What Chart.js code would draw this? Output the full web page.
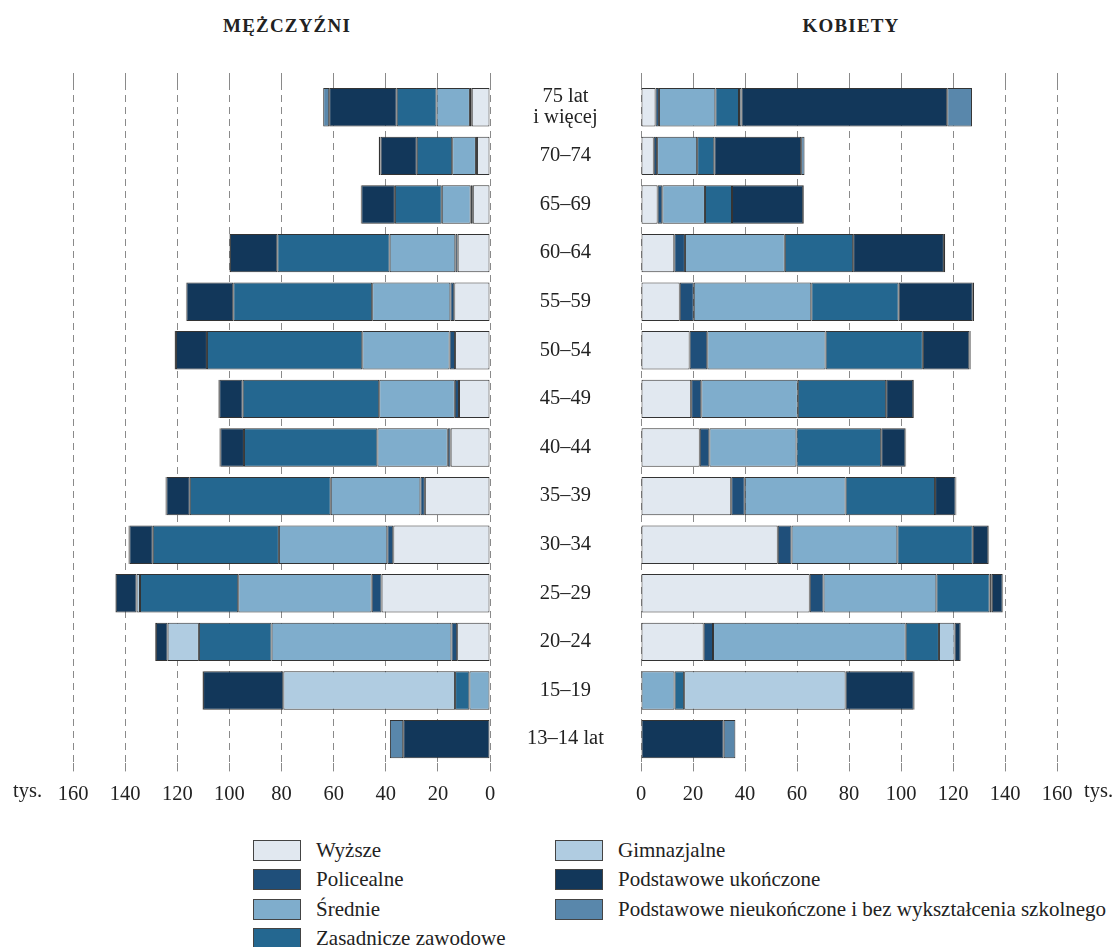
<!DOCTYPE html>
<html lang="pl">
<head>
<meta charset="UTF-8">
<title>Ludność według wieku i poziomu wykształcenia</title>
<script src="https://cdn.jsdelivr.net/npm/chart.js"></script>
<style>
  body {
    margin: 0;
    background: #fff;
    font-family: "Liberation Serif", "Times New Roman", serif;
    color: #222;
  }
  .page {
    position: relative;
    width: 1116px;
    height: 947px;
    overflow: hidden;
  }
  .title {
    position: absolute;
    top: 15px;
    width: 220px;
    text-align: center;
    font-weight: bold;
    font-size: 19px;
    letter-spacing: 1.2px;
  }
  #chartM { position: absolute; left: 0; top: 0; }
  #chartK { position: absolute; left: 620px; top: 0; }
  .unit {
    position: absolute;
    top: 779px;
    font-size: 20.5px;
  }
  .leg-item {
    position: absolute;
    height: 22px;
    display: flex;
    align-items: center;
    font-size: 21px;
    white-space: nowrap;
  }
  .leg-box {
    width: 46px;
    height: 19px;
    border: 1px solid #444;
    margin-right: 15px;
  }
</style>
</head>
<body>
<div class="page">
  <div class="title" style="left:177px">MĘŻCZYŹNI</div>
  <div class="title" style="left:741px">KOBIETY</div>

  <canvas id="chartM" width="641" height="828"></canvas>
  <canvas id="chartK" width="496" height="828"></canvas>

  <div class="unit" style="left:13px">tys.</div>
  <div class="unit" style="left:1084px">tys.</div>

  <div id="legend"></div>
</div>

<script>
// age groups, top to bottom
const ageGroups = [["75 lat", "i więcej"], "70–74", "65–69", "60–64", "55–59", "50–54",
  "45–49", "40–44", "35–39", "30–34", "25–29", "20–24", "15–19", "13–14 lat"];

// education levels (stack order from 0 outward)
const levels = ["Wyższe", "Policealne", "Średnie", "Zasadnicze zawodowe", "Gimnazjalne",
  "Podstawowe ukończone", "Podstawowe nieukończone i bez wykształcenia szkolnego"];
const levelColors = ["#e1e8f0", "#1f4f7a", "#7fadcc", "#246790", "#b0cce1", "#12375a", "#5987ab"];

// men, thousands
const menWyzsze       = [7.0, 5.0, 6.6, 12.4, 13.7, 13.4, 11.9, 15.1, 25.0, 37.1, 41.6, 12.6, 0, 0];
const menPolicealne   = [0.7, 0.4, 0.8, 0.9, 1.5, 2.1, 1.6, 1.1, 1.7, 2.3, 3.8, 2.2, 0, 0];
const menSrednie      = [12.8, 9.1, 11.1, 25.2, 30.0, 33.5, 29.0, 27.0, 34.4, 41.6, 51.2, 69.0, 7.9, 0];
const menZasadnicze   = [15.3, 13.6, 18.0, 43.1, 53.3, 59.6, 52.4, 51.2, 54.1, 48.4, 37.7, 27.9, 5.5, 0];
const menGimnazjalne  = [0, 0, 0, 0, 0, 0, 0, 0, 0, 0, 1.3, 12.0, 65.9, 0];
const menPodstawowe   = [25.9, 13.9, 12.9, 18.2, 18.0, 11.9, 9.0, 9.1, 9.0, 9.0, 8.0, 4.5, 30.8, 33.3];
const menNieukonczone = [2.3, 0.7, 0.2, 0.2, 0.2, 0.5, 0.3, 0.3, 0.3, 0.3, 0.2, 0.3, 0.2, 5.1];

// women, thousands
const womenWyzsze       = [5.6, 4.9, 6.4, 12.8, 14.9, 18.7, 19.3, 22.6, 34.7, 52.6, 64.9, 24.1, 0, 0];
const womenPolicealne   = [1.3, 1.3, 1.8, 4.1, 5.4, 6.8, 3.9, 3.7, 5.2, 5.3, 5.3, 3.6, 0, 0];
const womenSrednie      = [21.7, 15.4, 16.4, 38.4, 45.2, 45.5, 37.1, 33.5, 38.8, 40.7, 43.4, 74.1, 12.9, 0];
const womenZasadnicze   = [9.1, 6.6, 10.4, 26.3, 33.6, 37.4, 34.0, 32.6, 34.4, 29.0, 20.5, 12.8, 3.7, 0];
const womenGimnazjalne  = [0.9, 0, 0, 0, 0, 0, 0, 0, 0, 0, 0.8, 6.0, 62.1, 0];
const womenPodstawowe   = [79.2, 33.4, 27.4, 34.9, 28.5, 17.9, 10.4, 9.3, 7.9, 6.0, 4.2, 2.3, 26.2, 31.8];
const womenNieukonczone = [9.5, 1.3, 0.3, 0.5, 0.5, 0.5, 0.3, 0.3, 0.3, 0.3, 0.2, 0.2, 0.3, 4.5];

const axisTicks = [0, 20, 40, 60, 80, 100, 120, 140, 160];

const menSeries = [menWyzsze, menPolicealne, menSrednie, menZasadnicze, menGimnazjalne, menPodstawowe, menNieukonczone];
const womenSeries = [womenWyzsze, womenPolicealne, womenSrednie, womenZasadnicze, womenGimnazjalne, womenPodstawowe, womenNieukonczone];

const serif = "'Liberation Serif', 'Times New Roman', serif";
const textColor = "#222";
const gridColor = "#8a8a8a";

function makeDatasets(series) {
    return series.map((values, i) => ({
        label: levels[i],
        data: values,
        backgroundColor: levelColors[i],
        borderColor: "#333",
        borderWidth: 1,
        borderSkipped: false,
        barPercentage: 0.79,
        categoryPercentage: 1.0
    }));
}

function valueAxis(reverse) {
    return {
        type: "linear",
        stacked: true,
        reverse: reverse,
        min: 0,
        max: 160,
        afterBuildTicks: scale => { scale.ticks = axisTicks.map(v => ({ value: v })); },
        ticks: { font: { family: serif, size: 20.5 }, color: textColor, padding: 11, maxRotation: 0 },
        grid: { color: gridColor, lineWidth: 1, tickLength: 8, tickColor: gridColor },
        border: { display: false, dash: [7, 5] }
    };
}

function topAxis(reverse) {
    return {
        type: "linear",
        position: "top",
        reverse: reverse,
        min: 0,
        max: 160,
        afterBuildTicks: scale => { scale.ticks = axisTicks.map(v => ({ value: v })); },
        ticks: { display: false },
        grid: { drawOnChartArea: false, tickLength: 10, tickColor: gridColor },
        border: { display: false }
    };
}

// Men (left, axis reversed, age labels on the right side)
new Chart(document.getElementById("chartM"), {
    type: "bar",
    data: { labels: ageGroups, datasets: makeDatasets(menSeries) },
    options: {
        indexAxis: "y",
        responsive: false,
        animation: false,
        layout: { padding: { left: 73, right: 0, top: 73, bottom: 10 } },
        plugins: { legend: { display: false }, tooltip: { enabled: false } },
        scales: {
            x: valueAxis(true),
            x2: topAxis(true),
            y: {
                stacked: true,
                position: "right",
                grid: { display: false, drawTicks: false },
                border: { display: false },
                ticks: {
                    font: { family: serif, size: 20.5, lineHeight: 1.0 },
                    color: textColor,
                    padding: 37,
                    crossAlign: "center"
                },
                afterFit: scale => { scale.width = 151; }
            }
        }
    }
});

// Women (right)
new Chart(document.getElementById("chartK"), {
    type: "bar",
    data: { labels: ageGroups, datasets: makeDatasets(womenSeries) },
    options: {
        indexAxis: "y",
        responsive: false,
        animation: false,
        layout: { padding: { left: 21, right: 59, top: 73, bottom: 10 } },
        plugins: { legend: { display: false }, tooltip: { enabled: false } },
        scales: {
            x: valueAxis(false),
            x2: topAxis(false),
            y: { stacked: true, display: false }
        }
    }
});

// legend: two columns
const legend = document.getElementById("legend");
levels.forEach((name, i) => {
    const col = i < 4 ? 0 : 1;
    const row = i < 4 ? i : i - 4;
    const item = document.createElement("div");
    item.className = "leg-item";
    item.style.left = (col === 0 ? 253 : 555) + "px";
    item.style.top = (839 + row * 29.5) + "px";
    const box = document.createElement("div");
    box.className = "leg-box";
    box.style.background = levelColors[i];
    item.appendChild(box);
    item.appendChild(document.createTextNode(name));
    legend.appendChild(item);
});
</script>
</body>
</html>
